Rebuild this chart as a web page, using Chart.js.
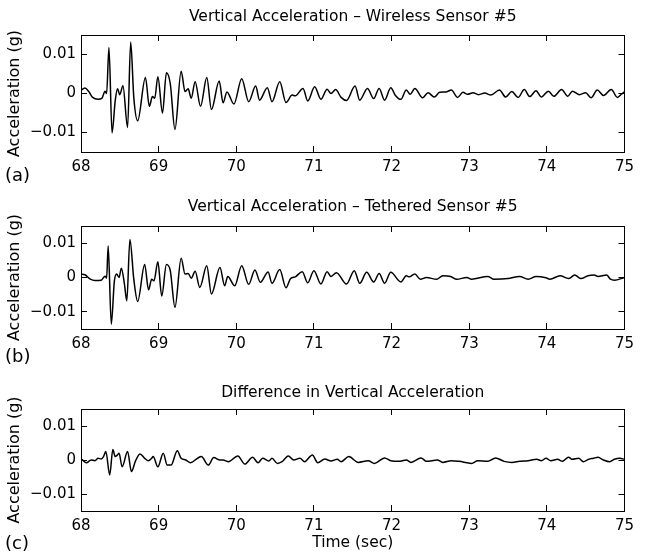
<!DOCTYPE html>
<html><head><meta charset="utf-8">
<script src="https://cdn.jsdelivr.net/npm/chart.js@4.4.1/dist/chart.umd.min.js"></script>
<style>
html,body{margin:0;padding:0;background:#fff;}
#wrap{position:relative;width:646px;height:558px;overflow:hidden;background:#fff;}
canvas{position:absolute;left:0;}
.pl{position:absolute;font-family:"DejaVu Sans";font-size:18px;line-height:18px;color:#000;}
</style></head><body>
<div id="wrap">
<canvas id="c1" width="646" height="185" style="top:0px"></canvas>
<canvas id="c2" width="646" height="185" style="top:185px"></canvas>
<canvas id="c3" width="646" height="188" style="top:370px"></canvas>
<div class="pl" id="lab0" style="left:5px;top:166px"></div>
<div class="pl" id="lab1" style="left:5px;top:347px"></div>
<div class="pl" id="lab2" style="left:5px;top:534px"></div>
</div>
<script>
// ---------- data ----------
const xTicks = [68, 69, 70, 71, 72, 73, 74, 75];
const xTickLabels = ['68', '69', '70', '71', '72', '73', '74', '75'];
const yTicks = [-0.01, 0, 0.01];
const yTickLabels = ['\u22120.01', '0', '0.01'];
const titles = ['Vertical Acceleration \u2013 Wireless Sensor #5', 'Vertical Acceleration \u2013 Tethered Sensor #5', 'Difference in Vertical Acceleration'];
const panelLabels = ['(a)', '(b)', '(c)'];
const yAxisLabel = 'Acceleration (g)';
const xAxisLabel = 'Time (sec)';

const wirelessTime = [68.00,68.05,68.10,68.15,68.22,68.27,68.31,68.33,68.36,68.40,68.44,68.47,68.50,68.54,68.60,68.64,68.68,68.73,68.83,68.88,68.92,68.95,68.99,69.05,69.10,69.15,69.21,69.29,69.34,69.38,69.42,69.47,69.54,69.62,69.68,69.78,69.83,69.88,69.97,70.07,70.16,70.25,70.30,70.40,70.46,70.56,70.64,70.72,70.76,70.86,70.92,71.01,71.09,71.17,71.22,71.28,71.35,71.42,71.53,71.59,71.69,71.77,71.84,71.91,71.99,72.05,72.12,72.19,72.24,72.30,72.40,72.47,72.55,72.62,72.70,72.77,72.85,72.92,72.98,73.05,73.12,73.20,73.28,73.39,73.47,73.55,73.63,73.71,73.78,73.86,73.93,74.02,74.09,74.19,74.27,74.33,74.42,74.50,74.57,74.65,74.73,74.83,74.91,74.96,75.00];
const wirelessAccel = [0.0008,0.0014,0.0005,-0.0010,-0.0015,-0.0012,0.0006,0.0000,0.0118,-0.0101,-0.0020,0.0012,-0.0003,0.0020,-0.0087,0.0132,-0.0010,-0.0070,0.0041,-0.0033,-0.0008,-0.0012,0.0043,-0.0050,0.0053,0.0025,-0.0092,0.0057,0.0005,0.0012,-0.0012,0.0030,-0.0033,0.0041,-0.0041,0.0032,-0.0024,0.0004,-0.0027,0.0038,-0.0021,0.0019,-0.0017,0.0015,-0.0021,0.0030,-0.0023,-0.0004,-0.0006,0.0013,-0.0019,0.0017,-0.0015,0.0011,0.0000,0.0010,-0.0010,-0.0018,0.0019,-0.0017,0.0013,-0.0013,0.0013,-0.0017,0.0015,-0.0005,-0.0015,0.0009,-0.0002,0.0013,-0.0011,0.0002,-0.0009,0.0003,0.0004,0.0009,-0.0010,0.0003,-0.0002,0.0002,-0.0003,0.0001,-0.0004,0.0009,-0.0009,0.0005,-0.0010,0.0010,-0.0008,0.0007,-0.0009,0.0006,-0.0007,0.0010,-0.0007,0.0006,-0.0003,0.0002,-0.0011,0.0009,-0.0005,0.0010,-0.0010,-0.0002,0.0004];

const tetheredTime = [68.00,68.05,68.12,68.18,68.26,68.31,68.33,68.35,68.39,68.43,68.46,68.49,68.52,68.56,68.59,68.63,68.68,68.73,68.82,68.87,68.91,68.94,68.99,69.04,69.10,69.15,69.21,69.29,69.34,69.38,69.42,69.47,69.53,69.62,69.68,69.79,69.85,69.89,69.98,70.07,70.16,70.24,70.31,70.41,70.46,70.56,70.64,70.70,70.76,70.85,70.92,71.00,71.09,71.17,71.22,71.29,71.42,71.52,71.59,71.68,71.77,71.84,71.91,71.99,72.12,72.19,72.23,72.30,72.37,72.45,72.58,72.66,72.76,72.84,72.97,73.03,73.24,73.32,73.50,73.65,73.76,73.86,73.99,74.04,74.17,74.28,74.36,74.44,74.53,74.61,74.66,74.77,74.82,74.87,75.00];
const tetheredAccel = [0.0010,0.0008,-0.0005,-0.0009,-0.0008,0.0004,-0.0002,0.0092,-0.0136,-0.0010,0.0010,0.0000,0.0027,-0.0020,-0.0068,0.0111,-0.0005,-0.0070,0.0038,-0.0036,-0.0005,-0.0010,0.0046,-0.0054,0.0038,0.0020,-0.0087,0.0056,0.0010,0.0012,-0.0002,0.0018,-0.0029,0.0034,-0.0048,0.0029,-0.0024,0.0003,-0.0024,0.0034,-0.0020,0.0022,-0.0014,0.0016,-0.0017,0.0023,-0.0030,-0.0003,0.0002,0.0017,-0.0015,0.0020,-0.0019,0.0017,0.0003,0.0014,-0.0019,0.0020,-0.0017,0.0015,-0.0013,0.0012,-0.0017,0.0015,-0.0013,0.0005,0.0002,0.0010,-0.0005,0.0000,-0.0005,0.0005,0.0003,-0.0005,0.0000,-0.0005,0.0003,-0.0005,-0.0003,0.0003,-0.0005,0.0003,-0.0001,-0.0005,0.0005,-0.0003,0.0007,-0.0003,0.0005,0.0007,0.0003,0.0007,-0.0005,-0.0008,0.0000];

const differenceTime = [68.01,68.07,68.13,68.18,68.22,68.26,68.29,68.32,68.37,68.41,68.44,68.47,68.49,68.53,68.60,68.65,68.70,68.76,68.82,68.87,68.91,68.93,68.99,69.06,69.11,69.16,69.24,69.29,69.35,69.41,69.50,69.55,69.64,69.71,69.79,69.83,69.90,70.02,70.11,70.21,70.28,70.34,70.42,70.46,70.53,70.59,70.67,70.74,70.82,70.88,70.98,71.05,71.14,71.22,71.30,71.35,71.45,71.57,71.70,71.78,71.91,71.99,72.09,72.19,72.25,72.38,72.45,72.59,72.66,72.77,72.87,73.03,73.11,73.24,73.34,73.45,73.55,73.65,73.76,73.87,73.93,73.99,74.05,74.14,74.20,74.28,74.33,74.41,74.47,74.54,74.60,74.66,74.73,74.81,74.87,74.94,75.00];
const differenceAccel = [0.0002,-0.0008,0.0000,-0.0002,0.0005,0.0003,0.0010,0.0025,-0.0044,0.0031,0.0010,0.0015,0.0020,-0.0020,0.0025,-0.0034,-0.0004,0.0018,0.0005,-0.0002,0.0005,0.0010,-0.0020,0.0020,-0.0015,-0.0015,0.0027,0.0005,0.0000,-0.0008,0.0005,0.0010,-0.0015,0.0007,0.0000,0.0000,-0.0005,0.0012,-0.0012,0.0008,-0.0008,0.0005,-0.0003,0.0005,-0.0010,-0.0005,0.0012,0.0000,0.0005,-0.0005,0.0015,-0.0008,0.0003,-0.0003,0.0002,-0.0005,0.0010,-0.0007,-0.0002,-0.0010,0.0006,-0.0002,-0.0004,0.0000,-0.0007,0.0006,-0.0004,0.0000,-0.0007,-0.0002,-0.0004,-0.0010,-0.0002,-0.0004,0.0006,-0.0004,-0.0007,-0.0004,-0.0002,0.0002,-0.0002,0.0005,-0.0002,0.0002,-0.0004,0.0008,0.0002,0.0005,-0.0005,0.0002,0.0005,0.0008,0.0000,-0.0005,0.0002,0.0005,0.0002];

// ---------- layout (pixels) ----------
const panels = [
  {id: 'c1', time: wirelessTime, accel: wirelessAccel, h: 185, top: 35, bottom: 152, titleCenter: 17, xTitle: false},
  {id: 'c2', time: tetheredTime, accel: tetheredAccel, h: 185, top: 41, bottom: 144, titleCenter: 22, xTitle: false},
  {id: 'c3', time: differenceTime, accel: differenceAccel, h: 188, top: 39, bottom: 141, titleCenter: 23, xTitle: true}
];
const FONT = 'DejaVu Sans';
const PLOT_LEFT = 81, PLOT_RIGHT = 637, W = 646;

panelLabels.forEach((t, i) => { document.getElementById('lab' + i).textContent = t; });

function fixedTicks(list) { return s => { s.ticks = list.map(v => ({value: v})); }; }

panels.forEach((p, k) => {
  const tickFont = {family: FONT, size: 15};
  const titleSize = 15.5;
  const titleFont = {family: FONT, size: titleSize, weight: 'normal'};
  const titleLH = titleSize * 1.2;
  new Chart(document.getElementById(p.id), {
    type: 'line',
    data: {
      datasets: [{
        data: p.time.map((t, i) => ({x: t, y: p.accel[i]})),
        xAxisID: 'x', yAxisID: 'y',
        borderColor: '#000', borderWidth: 1.5, pointRadius: 0,
        cubicInterpolationMode: 'monotone', fill: false
      }]
    },
    options: {
      responsive: false, animation: false, devicePixelRatio: 1,
      layout: {padding: 0},
      plugins: {
        legend: {display: false}, tooltip: {enabled: false},
        title: {
          display: true, text: titles[k], fullSize: false, color: '#000', font: titleFont,
          padding: {top: p.titleCenter - titleLH / 2, bottom: p.top - p.titleCenter - titleLH / 2}
        }
      },
      scales: {
        x: {
          type: 'linear', position: 'bottom', min: 68, max: 75,
          afterBuildTicks: fixedTicks(xTicks),
          afterFit: s => { s.height = p.h - p.bottom; },
          ticks: {color: '#000', font: tickFont, padding: 12, maxRotation: 0, autoSkip: false,
                  callback: (v, i) => xTickLabels[i]},
          grid: {drawOnChartArea: false, tickLength: -6, color: '#000', lineWidth: 1},
          border: {color: '#000', width: 1},
          title: {display: p.xTitle, text: xAxisLabel, color: '#000', font: titleFont, padding: {top: 0, bottom: 5.7}}
        },
        x2: {
          type: 'linear', position: 'top', min: 68, max: 75,
          afterBuildTicks: fixedTicks(xTicks),
          afterFit: s => { s.height = 0; },
          ticks: {display: false},
          grid: {drawOnChartArea: false, tickLength: -6, color: '#000', lineWidth: 1},
          border: {color: '#000', width: 1}
        },
        y: {
          type: 'linear', position: 'left', min: -0.015, max: 0.015,
          afterBuildTicks: fixedTicks(yTicks),
          afterFit: s => { s.width = PLOT_LEFT; },
          ticks: {color: '#000', font: tickFont, padding: 11, callback: (v, i) => yTickLabels[i]},
          grid: {drawOnChartArea: false, tickLength: -6, color: '#000', lineWidth: 1},
          border: {color: '#000', width: 1},
          title: {display: true, text: yAxisLabel, color: '#000', font: {family: FONT, size: 16}, padding: {top: 5.4, bottom: 0}}
        },
        y2: {
          type: 'linear', position: 'right', min: -0.015, max: 0.015,
          afterBuildTicks: fixedTicks(yTicks),
          afterFit: s => { s.width = W - PLOT_RIGHT; },
          ticks: {display: false},
          grid: {drawOnChartArea: false, tickLength: -6, color: '#000', lineWidth: 1},
          border: {color: '#000', width: 1}
        }
      }
    }
  });
});
</script>
</body></html>
